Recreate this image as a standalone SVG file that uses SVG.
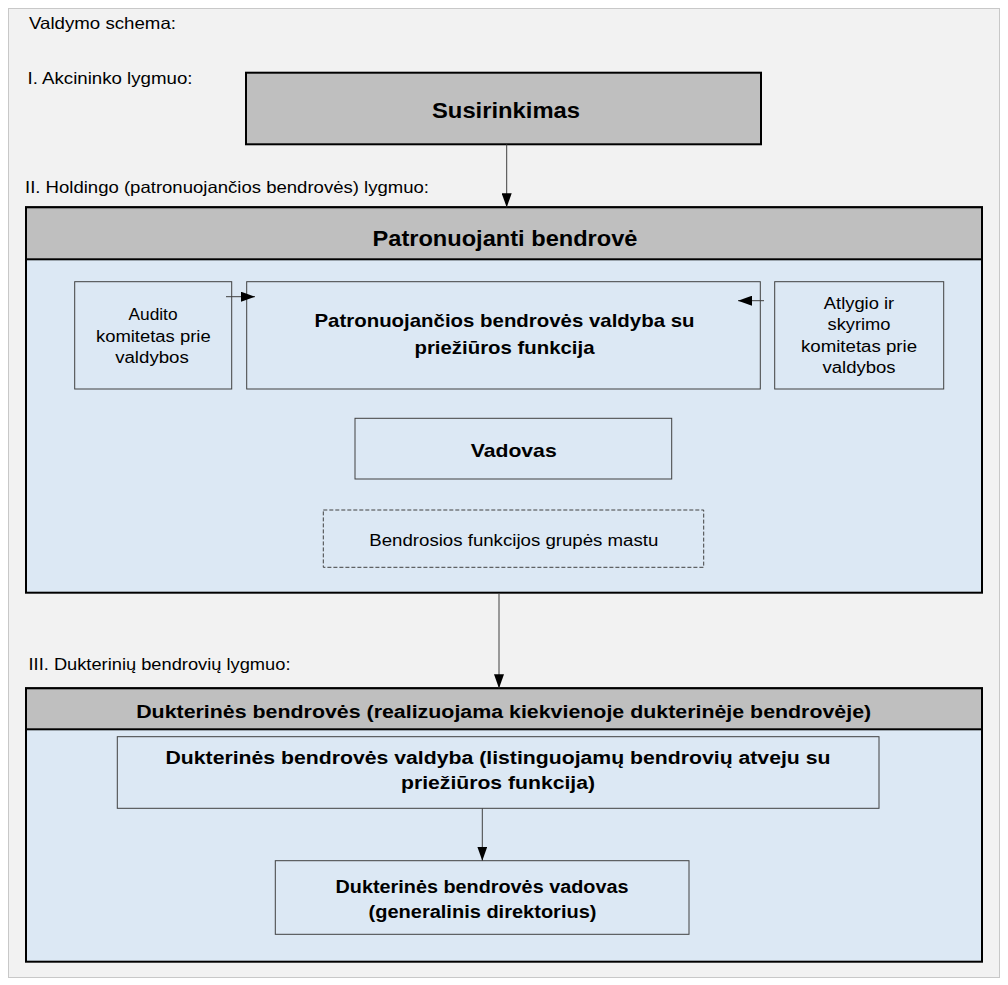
<svg xmlns="http://www.w3.org/2000/svg" width="1008" height="985" viewBox="0 0 1008 985">
<defs>
<style>
.lbl{font-family:"Liberation Sans",Arial,sans-serif;font-size:16.5px;fill:#000}
.reg{font-family:"Liberation Sans",Arial,sans-serif;font-size:16px;fill:#000;text-anchor:middle}
.bold{font-family:"Liberation Sans",Arial,sans-serif;font-weight:bold;fill:#000;text-anchor:middle}
.hdr{fill:#bfbfbf;stroke:#000;stroke-width:2}
.body{fill:#dce8f4;stroke:#000;stroke-width:2}
.box{fill:#dce8f4;stroke:#404040;stroke-width:1}
.conn{stroke:#404040;stroke-width:1;fill:none}
</style>
<marker id="ah" viewBox="0 0 14 10" refX="14" refY="5" markerWidth="14" markerHeight="10" markerUnits="userSpaceOnUse" orient="auto">
<path d="M0,0 L14,5 L0,10 Z" fill="#000"/>
</marker>
</defs>
<rect x="0" y="0" width="1008" height="985" fill="#ffffff"/>
<rect x="8.5" y="8.5" width="991" height="969" fill="#f2f2f2" stroke="#c8c8c8" stroke-width="1"/>

<g id="labels">
<text class="lbl" x="29" y="29" textLength="147" lengthAdjust="spacingAndGlyphs">Valdymo schema:</text>
<text class="lbl" x="27.5" y="84" textLength="165" lengthAdjust="spacingAndGlyphs">I. Akcininko lygmuo:</text>
<text class="lbl" x="25" y="193" textLength="404" lengthAdjust="spacingAndGlyphs">II. Holdingo (patronuojančios bendrovės) lygmuo:</text>
<text class="lbl" x="28.5" y="669.5" textLength="262" lengthAdjust="spacingAndGlyphs">III. Dukterinių bendrovių lygmuo:</text>
</g>

<g id="susirinkimas">
<rect class="hdr" x="246" y="72.7" width="515" height="71.6"/>
<text class="bold" x="506" y="118" font-size="22" textLength="148" lengthAdjust="spacingAndGlyphs">Susirinkimas</text>
</g>

<g id="patronuojanti">
<rect class="body" x="26" y="207.3" width="956" height="385.4"/>
<rect class="hdr" x="26" y="207.3" width="956" height="52"/>
<text class="bold" x="505" y="246" font-size="22" textLength="265" lengthAdjust="spacingAndGlyphs">Patronuojanti bendrovė</text>
</g>

<g id="audito">
<rect class="box" x="74.7" y="281.7" width="157" height="107.3"/>
<text class="reg" x="153" y="319.5" textLength="49" lengthAdjust="spacingAndGlyphs">Audito</text>
<text class="reg" x="153.3" y="341.5" textLength="114.7" lengthAdjust="spacingAndGlyphs">komitetas prie</text>
<text class="reg" x="152" y="363" textLength="73.7" lengthAdjust="spacingAndGlyphs">valdybos</text>
</g>

<g id="valdyba">
<rect class="box" x="246.7" y="281.7" width="513.6" height="107.3"/>
<text class="bold" x="504.5" y="326.7" font-size="19" textLength="380" lengthAdjust="spacingAndGlyphs">Patronuojančios bendrovės valdyba su</text>
<text class="bold" x="504.5" y="354" font-size="19" textLength="180" lengthAdjust="spacingAndGlyphs">priežiūros funkcija</text>
</g>

<g id="atlygio">
<rect class="box" x="774.7" y="281.7" width="169" height="107.3"/>
<text class="reg" x="859" y="308.5" textLength="70.3" lengthAdjust="spacingAndGlyphs">Atlygio ir</text>
<text class="reg" x="859" y="330" textLength="63" lengthAdjust="spacingAndGlyphs">skyrimo</text>
<text class="reg" x="859" y="351.5" textLength="116" lengthAdjust="spacingAndGlyphs">komitetas prie</text>
<text class="reg" x="859" y="373" textLength="73" lengthAdjust="spacingAndGlyphs">valdybos</text>
</g>

<g id="vadovas">
<rect class="box" x="355" y="418.3" width="316.7" height="60.7"/>
<text class="bold" x="513.7" y="456.7" font-size="19" textLength="86" lengthAdjust="spacingAndGlyphs">Vadovas</text>
</g>

<g id="bendrosios">
<rect x="323.3" y="510" width="380.4" height="57.3" fill="#dce8f4" stroke="#404040" stroke-width="1" stroke-dasharray="4,2"/>
<text class="reg" x="513.8" y="545.7" font-size="18.5" textLength="289" lengthAdjust="spacingAndGlyphs">Bendrosios funkcijos grupės mastu</text>
</g>

<g id="dukterines">
<rect class="body" x="26" y="688.3" width="956" height="273.4"/>
<rect class="hdr" x="26" y="688.3" width="956" height="41"/>
<text class="bold" x="503.7" y="717.5" font-size="17.5" textLength="735" lengthAdjust="spacingAndGlyphs">Dukterinės bendrovės (realizuojama kiekvienoje dukterinėje bendrovėje)</text>
</g>

<g id="dukt-valdyba">
<rect class="box" x="117.3" y="736.7" width="761.7" height="71.6"/>
<text class="bold" x="498" y="764" font-size="17.5" textLength="665" lengthAdjust="spacingAndGlyphs">Dukterinės bendrovės valdyba (listinguojamų bendrovių atveju su</text>
<text class="bold" x="498" y="789" font-size="17.5" textLength="194" lengthAdjust="spacingAndGlyphs">priežiūros funkcija)</text>
</g>

<g id="dukt-vadovas">
<rect class="box" x="275.3" y="860.7" width="413.7" height="73.6"/>
<text class="bold" x="482" y="892.7" font-size="18" textLength="293" lengthAdjust="spacingAndGlyphs">Dukterinės bendrovės vadovas</text>
<text class="bold" x="482.5" y="918.3" font-size="18" textLength="228" lengthAdjust="spacingAndGlyphs">(generalinis direktorius)</text>
</g>

<g id="connectors">
<line class="conn" x1="506.7" y1="144.3" x2="506.7" y2="207.3" marker-end="url(#ah)"/>
<line class="conn" x1="226" y1="296.7" x2="255" y2="296.7" marker-end="url(#ah)"/>
<line class="conn" x1="764" y1="300.7" x2="738" y2="300.7" marker-end="url(#ah)"/>
<line class="conn" x1="499" y1="593.7" x2="499" y2="688.3" marker-end="url(#ah)"/>
<line class="conn" x1="482.3" y1="808.3" x2="482.3" y2="860.7" marker-end="url(#ah)"/>
</g>
</svg>
